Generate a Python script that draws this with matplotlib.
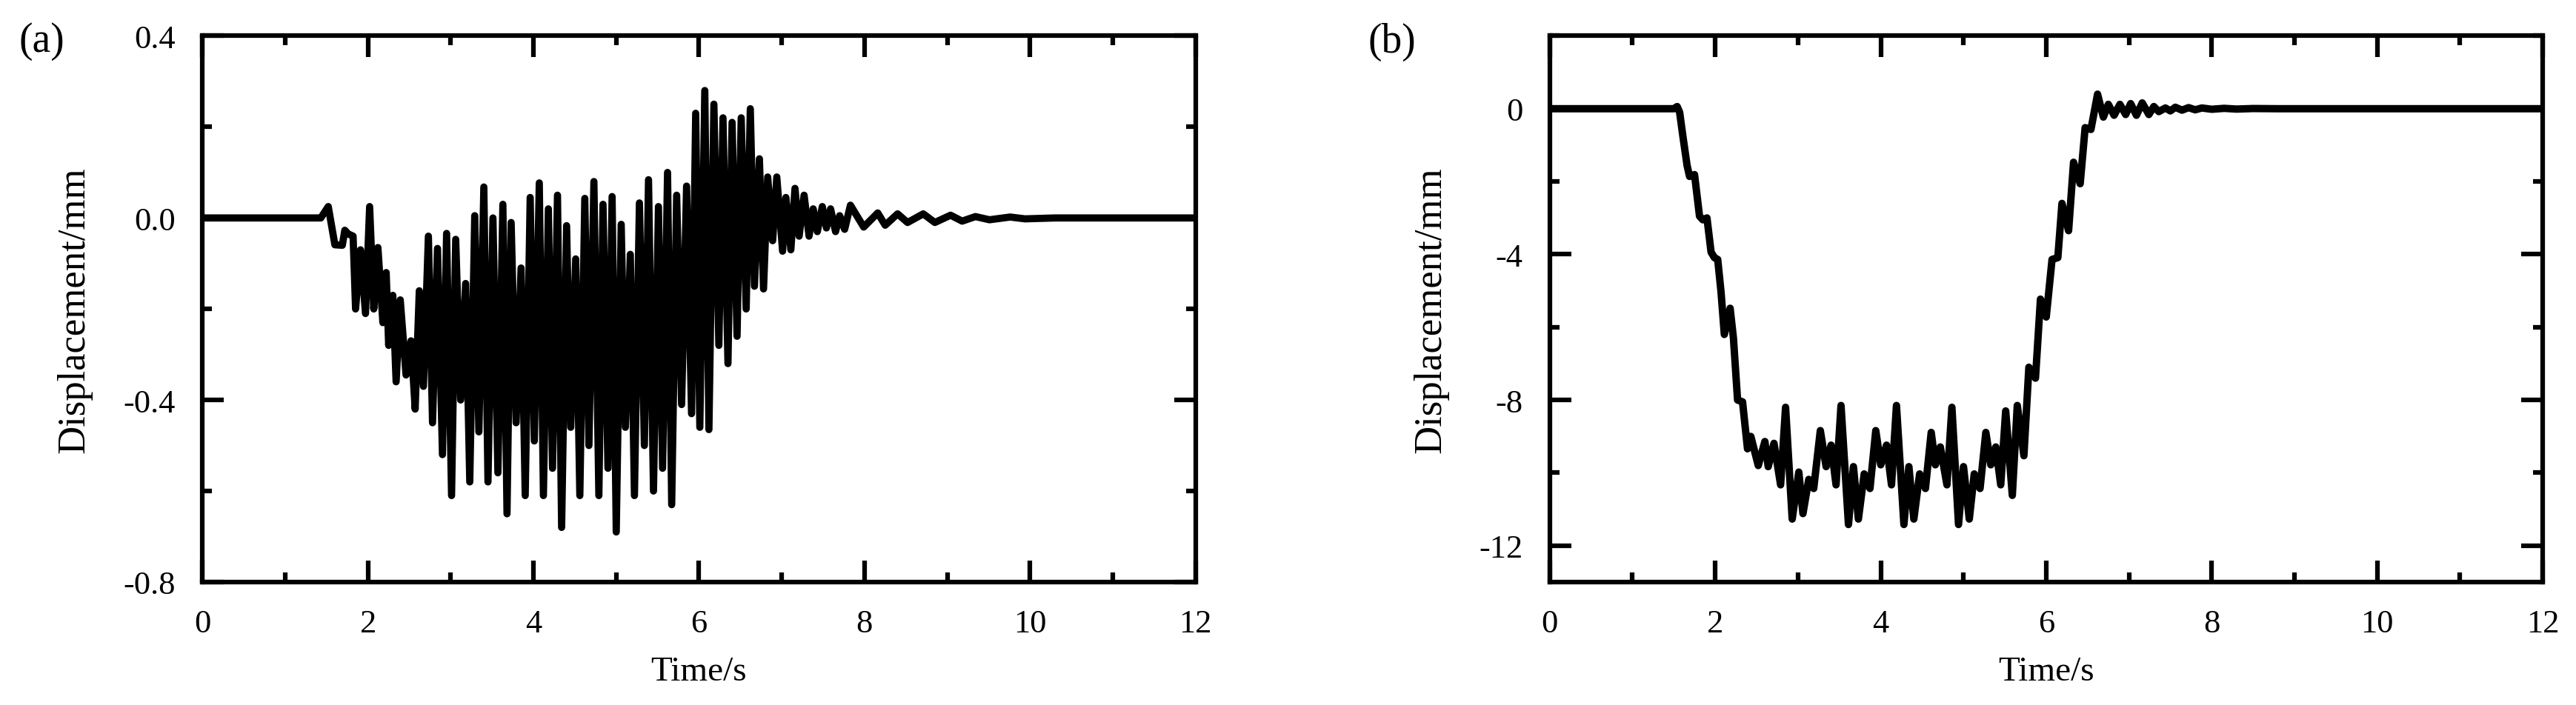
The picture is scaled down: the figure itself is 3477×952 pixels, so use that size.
import matplotlib
matplotlib.use("Agg")
import matplotlib.pyplot as plt
from matplotlib.ticker import MultipleLocator, FormatStrFormatter

plt.rcParams['font.family'] = ['Liberation Serif', 'DejaVu Serif']
plt.rcParams['axes.unicode_minus'] = False

# (a) displacement, peaks and troughs in order (s, mm)
time_a = [0, 1.43, 1.52, 1.60, 1.69, 1.72, 1.76, 1.82, 1.85, 1.91, 1.97, 2.02, 2.07,
          2.12, 2.18, 2.22, 2.25, 2.30, 2.34, 2.39, 2.46, 2.52, 2.57, 2.62, 2.67, 2.73,
          2.78, 2.84, 2.90, 2.95, 3.01, 3.06, 3.12, 3.18, 3.23, 3.29, 3.34, 3.40, 3.45,
          3.51, 3.57, 3.63, 3.68, 3.73, 3.79, 3.85, 3.90, 3.96, 4.01, 4.07, 4.12, 4.18,
          4.23, 4.29, 4.34, 4.40, 4.45, 4.51, 4.56, 4.62, 4.67, 4.73, 4.79, 4.84, 4.90,
          4.95, 5.00, 5.06, 5.11, 5.17, 5.22, 5.28, 5.34, 5.39, 5.45, 5.51, 5.56, 5.62,
          5.67, 5.73, 5.79, 5.85, 5.91, 5.96, 6.01, 6.07, 6.12, 6.18, 6.24, 6.29, 6.35,
          6.40, 6.46, 6.51, 6.57, 6.62, 6.67, 6.73, 6.78, 6.83, 6.89, 6.94, 7.01, 7.05,
          7.11, 7.16, 7.21, 7.27, 7.33, 7.38, 7.43, 7.49, 7.54, 7.59, 7.65, 7.70, 7.76,
          7.83, 7.99, 8.16, 8.25, 8.40, 8.52, 8.71, 8.85, 9.04, 9.18, 9.34, 9.51, 9.76,
          9.94, 10.3, 12]
disp_a = [0, 0, 0.025, -0.059, -0.06, -0.027, -0.035, -0.04, -0.20, -0.07, -0.21, 0.025, -0.2,
          -0.065, -0.23, -0.12, -0.28, -0.17, -0.36, -0.18, -0.345, -0.27, -0.42, -0.16, -0.37, -0.04,
          -0.45, -0.067, -0.52, -0.034, -0.61, -0.047, -0.40, -0.144, -0.58, 0.005, -0.47, 0.068, -0.58,
          0.0, -0.56, 0.03, -0.65, -0.01, -0.45, -0.11, -0.61, 0.045, -0.49, 0.077, -0.61, 0.02,
          -0.55, 0.05, -0.68, -0.017, -0.46, -0.09, -0.61, 0.043, -0.5, 0.08, -0.61, 0.03, -0.55,
          0.047, -0.69, -0.014, -0.46, -0.08, -0.61, 0.033, -0.5, 0.084, -0.6, 0.025, -0.55, 0.1,
          -0.63, 0.05, -0.41, 0.07, -0.43, 0.23, -0.46, 0.28, -0.465, 0.25, -0.28, 0.22, -0.32,
          0.21, -0.26, 0.22, -0.2, 0.24, -0.15, 0.13, -0.156, 0.09, -0.05, 0.09, -0.073, 0.045,
          -0.07, 0.065, -0.04, 0.05, -0.04, 0.02, -0.03, 0.025, -0.022, 0.02, -0.03, 0.005, -0.025,
          0.028, -0.02, 0.011, -0.016, 0.009, -0.01, 0.009, -0.01, 0.006, -0.007, 0.003, -0.004, 0.002,
          -0.002, 0, 0]

# (b) displacement (s, mm)
time_b = [0, 1.50, 1.54, 1.57, 1.61, 1.66, 1.69, 1.75, 1.81, 1.85, 1.90, 1.95, 1.99, 2.03, 2.07,
          2.11, 2.18, 2.22, 2.27, 2.33, 2.39, 2.43, 2.52, 2.60, 2.64, 2.71, 2.79, 2.85, 2.93,
          3.01, 3.06, 3.13, 3.19, 3.27, 3.34, 3.40, 3.46, 3.52, 3.61, 3.67, 3.73, 3.80, 3.87,
          3.94, 4.00, 4.07, 4.13, 4.19, 4.28, 4.34, 4.40, 4.47, 4.54, 4.61, 4.66, 4.72, 4.80,
          4.86, 4.94, 5.00, 5.07, 5.13, 5.20, 5.27, 5.33, 5.39, 5.45, 5.51, 5.59, 5.65, 5.73,
          5.79, 5.87, 5.93, 6.00, 6.07, 6.14, 6.19, 6.27, 6.33, 6.41, 6.47, 6.54, 6.62, 6.69,
          6.75, 6.82, 6.89, 6.96, 7.02, 7.09, 7.16, 7.24, 7.30, 7.36, 7.44, 7.50, 7.56, 7.64,
          7.72, 7.80, 7.88, 8.0, 8.15, 8.3, 8.5, 8.8, 12]
disp_b = [0, 0, 0.06, -0.1, -0.77, -1.56, -1.86, -1.81, -2.95, -3.05, -3.0, -3.94, -4.09, -4.14, -5.03,
          -6.2, -5.48, -6.3, -8.0, -8.05, -9.34, -9.0, -9.8, -9.14, -9.83, -9.19, -10.33, -8.2, -11.27,
          -9.98, -11.12, -10.18, -10.43, -8.84, -9.83, -9.24, -10.33, -8.15, -11.42, -9.83, -11.27, -10.03, -10.43,
          -8.84, -9.78, -9.24, -10.33, -8.15, -11.42, -9.83, -11.27, -10.03, -10.43, -8.89, -9.78, -9.29, -10.33,
          -8.2, -11.42, -9.83, -11.27, -10.03, -10.43, -8.89, -9.78, -9.29, -10.33, -8.3, -10.62, -8.15, -9.53,
          -7.1, -7.4, -5.23, -5.72, -4.14, -4.09, -2.6, -3.35, -1.47, -2.06, -0.52, -0.57, 0.4, -0.23,
          0.12, -0.18, 0.12, -0.16, 0.14, -0.18, 0.16, -0.16, 0.06, -0.08, 0.02, -0.06, 0.04, -0.04,
          0.03, -0.03, 0.02, -0.015, 0.01, -0.01, 0.005, 0, 0]

xticks = [0, 2, 4, 6, 8, 10, 12]
yticks_a = [-0.8, -0.4, 0.0, 0.4]
yticks_b = [-12, -8, -4, 0]

fig = plt.figure(figsize=(34.77, 9.53), dpi=100)
ax_a = fig.add_axes([0.0786, 0.1742, 0.3855, 0.7739])
ax_b = fig.add_axes([0.6016, 0.1742, 0.3855, 0.7739])

ax_a.plot(time_a, disp_a, color='black', lw=7.0, solid_joinstyle='round', solid_capstyle='round')
ax_b.plot(time_b, disp_b, color='black', lw=7.2, solid_joinstyle='round', solid_capstyle='round')

ax_a.set_ylim(-0.8, 0.4)
ax_a.set_yticks(yticks_a)
ax_a.yaxis.set_minor_locator(MultipleLocator(0.2))
ax_a.yaxis.set_major_formatter(FormatStrFormatter('%.1f'))

ax_b.set_ylim(-13, 2)
ax_b.set_yticks(yticks_b)
ax_b.yaxis.set_minor_locator(MultipleLocator(2))

for ax in (ax_a, ax_b):
    ax.set_xlim(0, 12)
    ax.set_xticks(xticks)
    ax.xaxis.set_minor_locator(MultipleLocator(1))
    for s in ax.spines.values():
        s.set_linewidth(4.5)
    ax.tick_params(which='both', direction='in', top=True, right=True, width=4.5)
    ax.tick_params(which='major', length=21, pad=26, labelsize=32)
    ax.tick_params(which='minor', length=9.5)
    ax.set_xlabel('Time/s', fontsize=34)
    ax.set_ylabel('Displacement/mm', fontsize=38)
    ax.xaxis.set_label_coords(0.5, -0.135)

ax_a.yaxis.set_label_coords(-0.111, 0.5)
ax_b.yaxis.set_label_coords(-0.102, 0.5)

fig.text(0.0072, 0.968, '(a)', fontsize=40, ha='left', va='top')
fig.text(0.531, 0.968, '(b)', fontsize=40, ha='left', va='top')

fig.savefig('out.png', dpi=100)
